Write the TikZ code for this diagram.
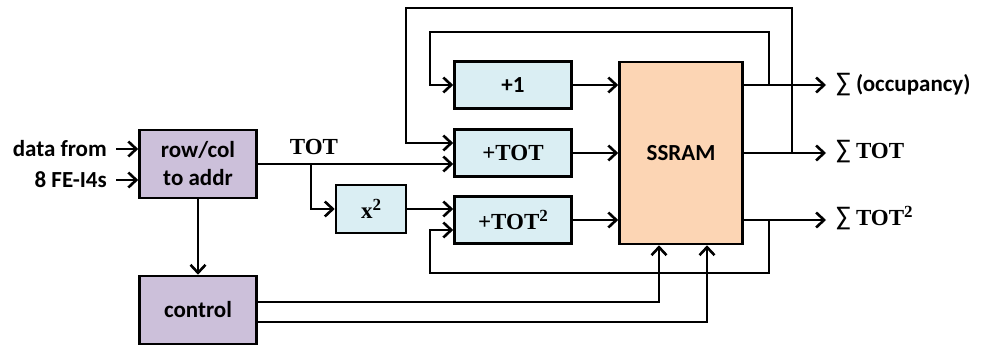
\documentclass[tikz,border=0pt]{standalone}
\usepackage{fontspec}
\setmainfont{Carlito}
\newfontfamily\tot{Liberation Serif}
\usepackage{xcolor}
\usetikzlibrary{arrows.meta, positioning}
\definecolor{lilac}{RGB}{204,192,218}
\definecolor{paleblue}{RGB}{218,238,243}
\definecolor{peach}{RGB}{252,213,180}
\newcommand{\sqr}{\raisebox{8pt}{\fontsize{17}{17}\selectfont 2}}
\newcommand{\sumsign}{{\mdseries\fontsize{27}{28}\selectfont ∑}}
\tikzset{
  box/.style={rectangle, draw, line width=2.6pt, align=center, inner sep=0pt,
    font=\fontsize{23}{28}\selectfont\bfseries},
  ctrlbox/.style={box, fill=lilac, minimum width=117pt, minimum height=68pt},
  opbox/.style={box, fill=paleblue, minimum width=117pt, minimum height=47pt},
  label/.style={inner sep=0pt, font=\fontsize{23}{28}\selectfont\bfseries},
  arrow/.style={-{Straight Barb[length=8pt,width=15pt]}, line width=2.6pt},
}

\begin{document}
\begin{tikzpicture}[x=1pt, y=-1pt]
    \useasboundingbox (0,0) rectangle (982,347);
    % blocks
    \node[ctrlbox] (rowcol) at (198,164) {row/col\\to addr};
    \node[ctrlbox] (control) at (198,310) {control};
    \node[opbox, minimum width=70pt, minimum height=48pt] (square) at (371,209) {\tot x\sqr};
    \node[opbox] (inc) at (513,85) {+1};
    \node[opbox] (addtot) at (513,153) {\tot +TOT};
    \node[opbox] (addsq) at (513,220) {\tot +TOT\sqr};
    \node[box, fill=peach, minimum width=123pt, minimum height=182pt] (ssram) at (681,153) {SSRAM};
    % texts
    \node[label, anchor=east] (datafrom) at (107,149) {data from};
    \node[label, anchor=east] (fe) at (107,180) {8 FE-I4s};
    \node[label, anchor=base] (totlbl) at (314,155) {\tot TOT};
    \node[label, anchor=base west] (sumocc) at (836,92) {\sumsign\ (occupancy)};
    \node[label, anchor=base west] (sumtot) at (836,159) {\sumsign\ {\tot TOT}};
    \node[label, anchor=base west] (sumsq) at (836,226) {\sumsign\ {\tot TOT\sqr}};
    % taps
    \coordinate (split) at (311,164);
    \coordinate (tapocc) at (769,85);
    \coordinate (taptot) at (792,153);
    \coordinate (tapsq) at (769,220);
    % inputs
    \draw[arrow] ([xshift=9pt]datafrom.east) -- (datafrom.east -| rowcol.west);
    \draw[arrow] ([xshift=9pt]fe.east) -- (fe.east -| rowcol.west);
    \draw[arrow] (rowcol.south) -- (control.north);
    \draw[arrow] (rowcol.east) -- (rowcol.east -| addtot.west);
    \draw[arrow] (split) |- (square.west);
    \draw[arrow] (square.east) -- (square.east -| addsq.west);
    % into the ssram
    \draw[arrow] (inc.east) -- (inc.east -| ssram.west);
    \draw[arrow] (addtot.east) -- (addtot.east -| ssram.west);
    \draw[arrow] (addsq.east) -- (addsq.east -| ssram.west);
    % outputs
    \draw[arrow] (ssram.east |- inc.east) -- ([xshift=-10pt]sumocc.west |- inc.east);
    \draw[arrow] (ssram.east |- addtot.east) -- ([xshift=-10pt]sumocc.west |- addtot.east);
    \draw[arrow] (ssram.east |- addsq.east) -- ([xshift=-10pt]sumocc.west |- addsq.east);
    % feedback
    \draw[arrow] (tapocc) -- (769,32) -- (430,32) |- (inc.west);
    \draw[arrow] (taptot) -- (792,8) -- (406,8) |- ([yshift=10pt]addtot.west);
    \draw[arrow] (tapsq) -- (769,273) -- (430,273) |- ([yshift=-10pt]addsq.west);
    % control
    \draw[arrow] ([yshift=8pt]control.east) -| ([xshift=-22pt]ssram.south);
    \draw[arrow] ([yshift=-12pt]control.east) -| ([xshift=26pt]ssram.south);
  \end{tikzpicture}
\end{document}
